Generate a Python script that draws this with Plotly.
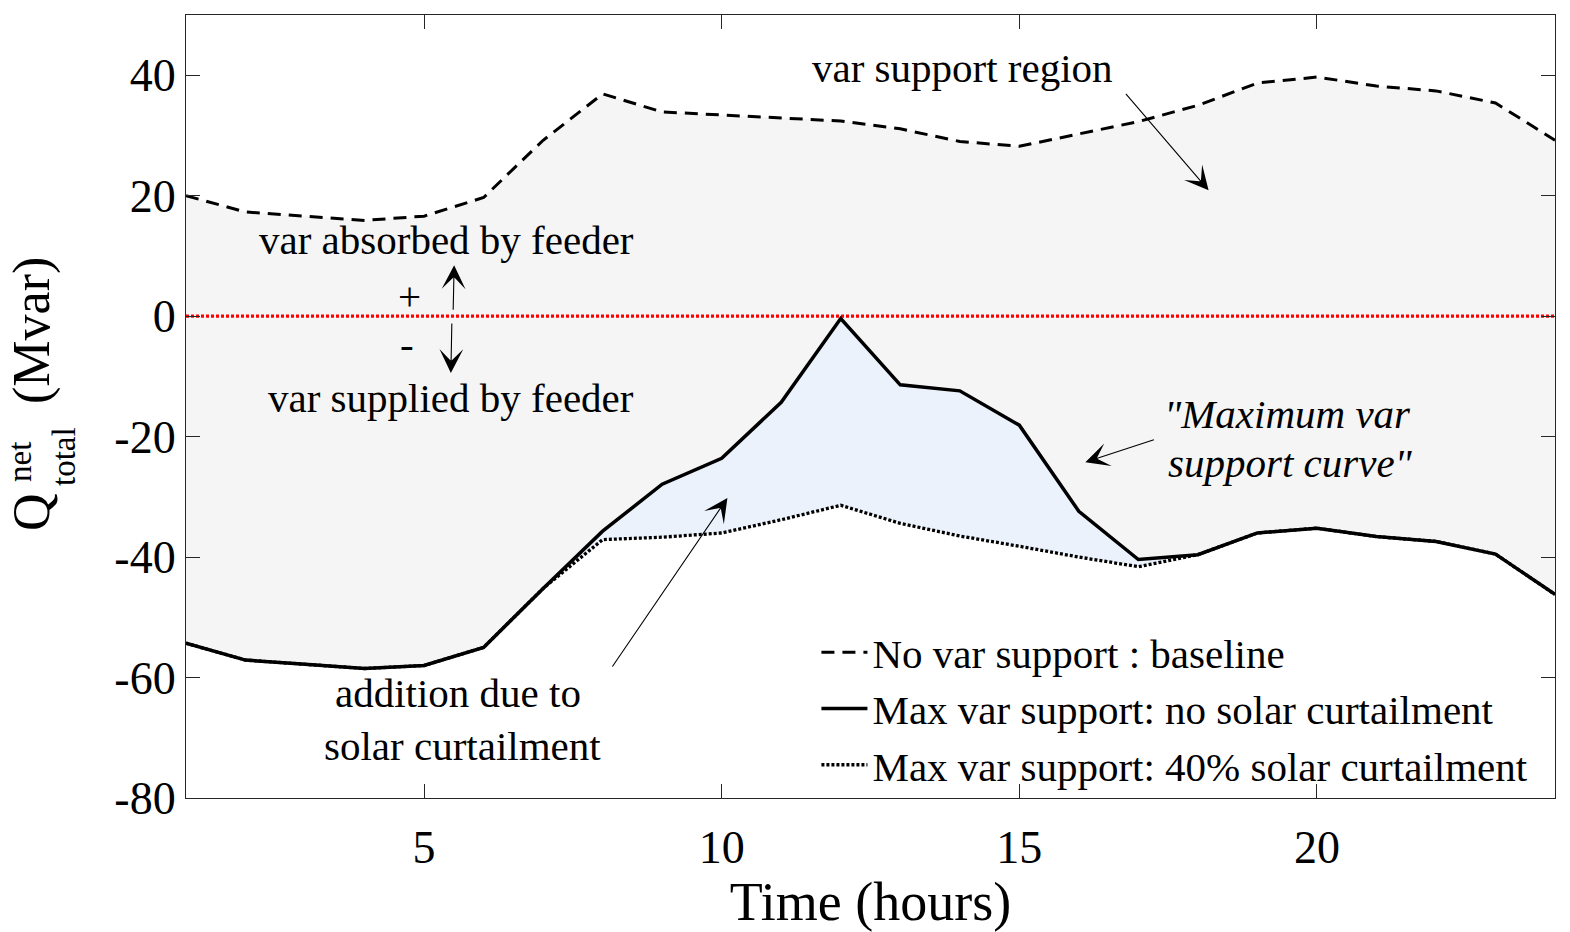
import plotly.graph_objects as go

# ---------------- data ----------------
hours = list(range(1, 25))
baseline = [20.0, 17.3, 16.6, 15.9, 16.6, 19.7, 29.2, 36.9, 33.9, 33.4, 32.9, 32.4,
            31.1, 29.0, 28.2, 30.3, 32.3, 35.0, 38.7, 39.7, 38.2, 37.4, 35.4, 29.2]
max_support = [-54.3, -57.1, -57.8, -58.5, -58.0, -55.0, -45.2, -35.7, -27.9, -23.6, -14.3, -0.4,
               -11.4, -12.4, -18.1, -32.4, -40.4, -39.6, -36.0, -35.2, -36.6, -37.4, -39.5, -46.2]
curtail_support = [-54.3, -57.1, -57.8, -58.5, -58.0, -55.0, -45.2, -37.1, -36.7, -36.0, -33.8, -31.4,
                   -34.4, -36.5, -38.2, -40.0, -41.6, -39.6, -36.0, -35.2, -36.6, -37.4, -39.5, -46.2]
zero_level = 0
x_ticks = [5, 10, 15, 20]
y_ticks = [-80, -60, -40, -20, 0, 20, 40]
y_ticktext = ["-80", "-60", "-40", "-20", "0", "20", "40"]
names = ["No var support : baseline",
         "Max var support: no solar curtailment",
         "Max var support: 40% solar curtailment"]

FONT = "Liberation Serif"
AX = "rgb(38,38,38)"

fig = go.Figure()

# fill areas
fig.add_trace(go.Scatter(x=hours, y=baseline, mode="lines", line=dict(width=0),
                         showlegend=False, hoverinfo="skip"))
fig.add_trace(go.Scatter(x=hours, y=max_support, mode="lines", line=dict(width=0),
                         fill="tonexty", fillcolor="rgb(245,245,245)",
                         showlegend=False, hoverinfo="skip"))
fig.add_trace(go.Scatter(x=hours, y=curtail_support, mode="lines", line=dict(width=0),
                         fill="tonexty", fillcolor="rgb(235,242,251)",
                         showlegend=False, hoverinfo="skip"))

# zero reference line
fig.add_trace(go.Scatter(x=[hours[0], hours[-1]], y=[zero_level, zero_level], mode="lines",
                         line=dict(color="rgb(255,0,0)", width=3.2, dash="3px,2px"),
                         showlegend=False, hoverinfo="skip"))

# curves
fig.add_trace(go.Scatter(x=hours, y=baseline, mode="lines", name=names[0],
                         line=dict(color="black", width=3, dash="13px,8px")))
fig.add_trace(go.Scatter(x=hours, y=max_support, mode="lines", name=names[1],
                         line=dict(color="black", width=3.5)))
fig.add_trace(go.Scatter(x=hours, y=curtail_support, mode="lines", name=names[2],
                         line=dict(color="black", width=3.3, dash="3px,2px")))

ann_font = dict(family=FONT, size=41, color="black")
arrow_common = dict(showarrow=True, arrowhead=3, arrowwidth=1.1, arrowsize=3.6,
                    arrowcolor="black", text="", xref="x", yref="y")

annotations = [
    dict(x=14.04, y=41.2, text="var support region", showarrow=False, font=ann_font),
    dict(x=18.18, y=20.9, ax=-84, ay=-98, **arrow_common),
    dict(x=5.37, y=12.62, text="var absorbed by feeder", showarrow=False, font=ann_font),
    dict(x=5.455, y=-13.6, text="var supplied by feeder", showarrow=False, font=ann_font),
    dict(x=4.75, y=3.42, text="+", showarrow=False, font=ann_font),
    dict(x=4.72, y=-4.7, text="-", showarrow=False, font=ann_font),
    dict(x=5.505, y=8.47, ax=-1, ay=46, **arrow_common),
    dict(x=5.45, y=-9.42, ax=1, ay=-51, **arrow_common),
    dict(x=19.51, y=-16.28, text="<i>\"Maximum var</i>", showarrow=False, font=ann_font),
    dict(x=19.56, y=-24.42, text="<i>support curve\"</i>", showarrow=False, font=ann_font),
    dict(x=16.11, y=-24.25, ax=70, ay=-23, **arrow_common),
    dict(x=5.572, y=-62.6, text="addition due to", showarrow=False, font=ann_font),
    dict(x=5.64, y=-71.4, text="solar curtailment", showarrow=False, font=ann_font),
    dict(x=10.096, y=-30.2, ax=-116, ay=170, **arrow_common),
]
for a in annotations:
    a.setdefault("xref", "x")
    a.setdefault("yref", "y")

# y-axis title built from pieces (stacked super/subscript)
ytitle = [
    dict(text="(Mvar)", x=-0.1125, y=0.5977, size=52),
    dict(text="Q", x=-0.1125, y=0.3653, size=52),
    dict(text="net", x=-0.1213, y=0.4291, size=33),
    dict(text="total", x=-0.0891, y=0.4355, size=33),
]
for t in ytitle:
    annotations.append(dict(text=t["text"], x=t["x"], y=t["y"], xref="paper", yref="paper",
                            showarrow=False, textangle=-90, xanchor="center", yanchor="middle",
                            font=dict(family=FONT, size=t["size"], color="black")))

fig.update_layout(
    width=1570, height=932, autosize=False,
    margin=dict(l=186, r=15, t=15, b=134, pad=0),
    paper_bgcolor="white", plot_bgcolor="white",
    font=dict(family=FONT, color="black"),
    annotations=annotations,
    showlegend=True,
    legend=dict(x=0.4605, y=0.2286, xanchor="left", yanchor="top", traceorder="normal",
                bgcolor="rgba(0,0,0,0)", borderwidth=0,
                font=dict(family=FONT, size=41, color="black"),
                itemwidth=46, tracegroupgap=0),
    xaxis=dict(range=[1, 24], tickvals=x_ticks, ticks="inside", ticklen=14, tickwidth=1.3,
               tickcolor=AX, showline=True, linecolor=AX, linewidth=1.3, mirror="ticks",
               showgrid=False, zeroline=False, ticklabelstandoff=9, automargin=False,
               tickfont=dict(family=FONT, size=46, color="black"),
               title=dict(text="Time (hours)", font=dict(family=FONT, size=54, color="black"),
                          standoff=15)),
    yaxis=dict(range=[-80, 50], tickvals=y_ticks, ticktext=y_ticktext, ticks="inside",
               ticklen=14, tickwidth=1.3, tickcolor=AX, showline=True, linecolor=AX,
               linewidth=1.3, mirror="ticks", showgrid=False, zeroline=False, automargin=False,
               tickfont=dict(family=FONT, size=46, color="black")),
)

fig.write_html("out.html")
